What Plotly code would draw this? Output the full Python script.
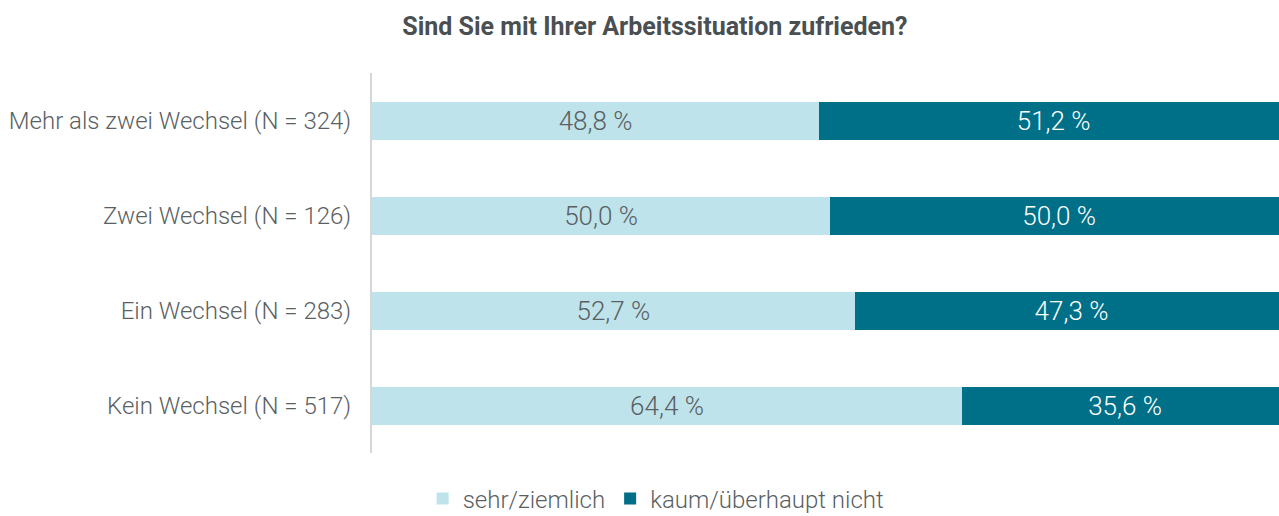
import plotly.graph_objects as go

categories = [
    "Kein Wechsel (N = 517)",
    "Ein Wechsel (N = 283)",
    "Zwei Wechsel (N = 126)",
    "Mehr als zwei Wechsel (N = 324)",
]
zufrieden = [64.4, 52.7, 50.0, 48.8]
unzufrieden = [35.6, 47.3, 50.0, 51.2]
series_names = ["sehr/ziemlich", "kaum/überhaupt nicht"]

FONT = "Roboto"
TEXT = "#5a5f63"

def fmt(v):
    return f"{v:.1f}".replace(".", ",") + " %"

fig = go.Figure()
fig.add_trace(go.Bar(
    y=categories, x=zufrieden, orientation="h", name=series_names[0],
    marker=dict(color="#bee3ea", line=dict(width=0)),
    text=[fmt(v) for v in zufrieden], textposition="inside",
    insidetextanchor="middle",
    textfont=dict(family=FONT, size=26, color="#5a5f63", weight=300),
))
fig.add_trace(go.Bar(
    y=categories, x=unzufrieden, orientation="h", name=series_names[1],
    marker=dict(color="#006f88", line=dict(width=0)),
    text=[fmt(v) for v in unzufrieden], textposition="inside",
    insidetextanchor="middle",
    textfont=dict(family=FONT, size=26, color="white", weight=300),
))

fig.update_layout(
    barmode="stack",
    bargap=0.6,
    width=1279, height=516,
    margin=dict(l=372, r=0, t=73, b=63, autoexpand=False),
    plot_bgcolor="white", paper_bgcolor="white",
    font=dict(family=FONT, color=TEXT, size=24, weight=300),
    title=dict(text="<b>Sind Sie mit Ihrer Arbeitssituation zufrieden?</b>",
               x=0.512, xanchor="center", y=0.95, yanchor="middle",
               font=dict(family=FONT, size=25, color="#4a4f52")),
    xaxis=dict(range=[0, 99.0], visible=False, fixedrange=True),
    yaxis=dict(showline=True, linecolor="#d6d6d6", linewidth=2,
               ticks="", ticklabelstandoff=14, automargin=False,
               tickfont=dict(family=FONT, size=24, color=TEXT, weight=300),
               showgrid=False),
    legend=dict(orientation="h", xref="container", yref="container",
                x=0.513, xanchor="center", y=0.033, yanchor="middle",
                font=dict(family=FONT, size=24, color=TEXT, weight=300),
                itemwidth=30, traceorder="normal"),
    uniformtext=dict(mode=False),
)

fig.write_html("out.html")
